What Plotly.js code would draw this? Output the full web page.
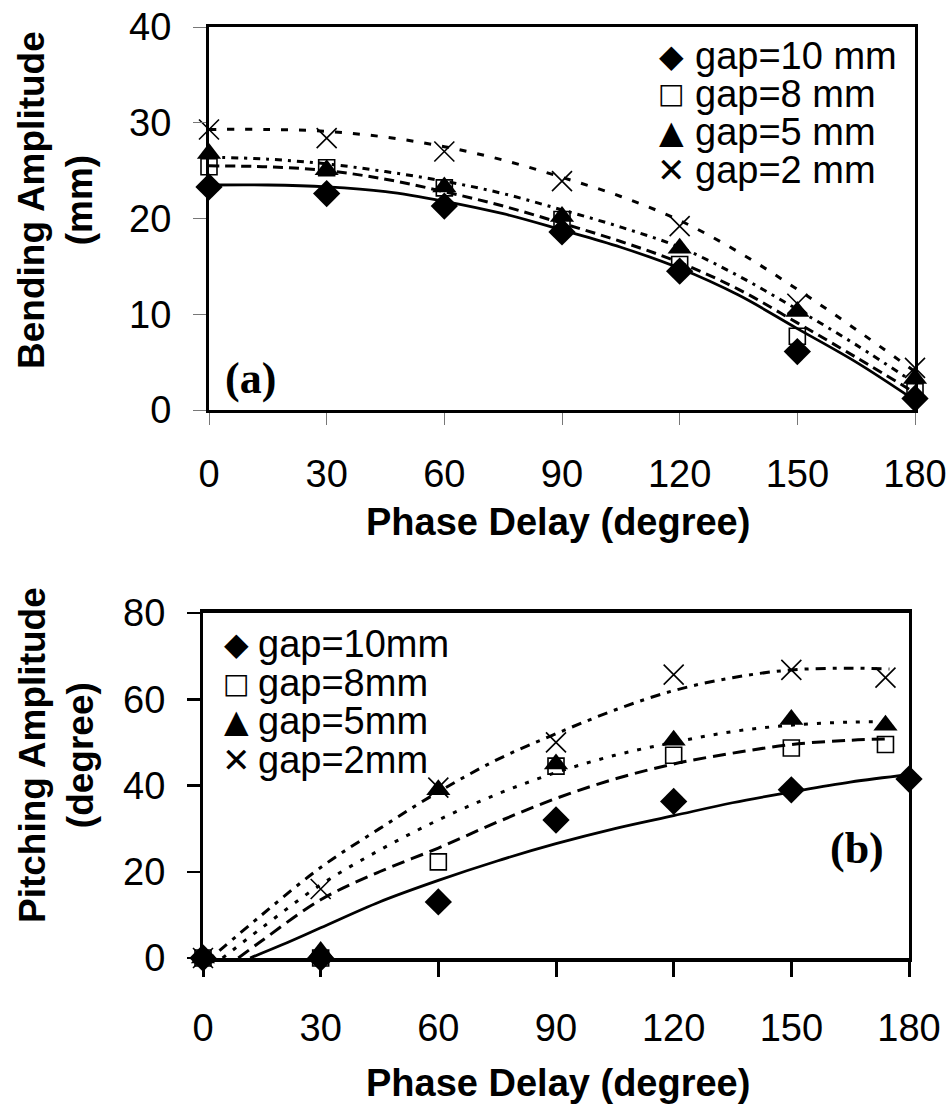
<!DOCTYPE html>
<html><head><meta charset="utf-8">
<script src="https://cdn.plot.ly/plotly-3.0.1.min.js"></script>
<style>html,body{margin:0;padding:0;background:#fff}#chart{width:948px;height:1119px}</style>
</head><body><div id="chart"></div><script>
// ---- (a) Bending amplitude ----
const phaseA = [0, 30, 60, 90, 120, 150, 180];
const bendGap10 = [23.3, 22.6, 21.3, 18.6, 14.5, 6.1, 1.2];
const bendGap8  = [25.4, 25.3, 23.2, 19.9, 15.2, 7.7, 1.9];
const bendGap5  = [26.8, 25.1, 23.3, 20.2, 16.9, 10.3, 3.3];
const bendGap2  = [29.3, 28.4, 27.0, 23.9, 19.2, 11.1, 4.4];
const trendXA   = [0, 15, 30, 45, 60, 75, 90, 105, 120, 135, 150, 165, 180];
const bendFit10 = [23.5, 23.5, 23.3, 22.8, 21.8, 20.5, 18.8, 17.0, 14.8, 12.0, 8.5, 5.0, 1.0];
const bendFit8  = [25.5, 25.4, 25.0, 24.1, 22.8, 21.3, 19.5, 17.6, 15.4, 12.6, 9.1, 5.5, 1.8];
const bendFit5  = [26.4, 26.2, 25.7, 24.9, 23.9, 22.6, 20.9, 19.1, 17.0, 14.0, 10.5, 6.8, 2.8];
const bendFit2  = [29.3, 29.3, 29.1, 28.5, 27.5, 26.1, 24.3, 22.3, 19.8, 16.5, 12.6, 8.4, 4.0];

// ---- (b) Pitching amplitude ----
const phaseB    = [0, 30, 60, 90, 120, 150, 174];
const phaseB10  = [0, 30, 60, 90, 120, 150, 180];
const pitchGap10 = [0, 0, 13, 32, 36.3, 39, 41.5];
const pitchGap8  = [0, 0, 22.3, 44.5, 47, 48.7, 49.5];
const pitchGap5  = [0, 1.5, 39, 45, 50.5, 55.3, 54];
const pitchGap2  = [0, 16, 39.5, 50, 65.7, 66.8, 65];
const fitX10 = [12, 20, 30, 45, 60, 75, 90, 105, 120, 135, 150, 165, 180];
const pitchFit10 = [0, 3, 7, 13, 18, 22.5, 26.5, 30, 33, 36, 38.5, 40.8, 42.5];
const fitX8 = [9, 15, 30, 45, 60, 75, 90, 105, 120, 135, 150, 165, 175];
const pitchFit8 = [0, 4, 13.5, 20, 25.5, 31.5, 37, 41.5, 45, 47.5, 49.5, 50.5, 50.8];
const fitX5 = [5, 15, 30, 45, 60, 75, 90, 105, 120, 135, 150, 165, 175];
const pitchFit5 = [0, 7, 17, 25, 32, 38, 43, 47, 50, 52.5, 54, 54.7, 54.8];
const fitX2 = [2, 15, 30, 45, 60, 75, 90, 105, 120, 135, 150, 165, 175];
const pitchFit2 = [0, 10, 21, 30, 38.5, 46, 52, 57.5, 62, 65, 66.8, 67.2, 67];

const xTicks = [0, 30, 60, 90, 120, 150, 180];
const legendSymbols = ['◆', '□', '▲', '✕'];
const legendA = ['gap=10 mm', 'gap=8 mm', 'gap=5 mm', 'gap=2 mm'];
const legendB = ['gap=10mm', 'gap=8mm', 'gap=5mm', 'gap=2mm'];

const W = 948, H = 1119;
const px = v => v / W, py = v => 1 - v / H;
const SANS = 'Liberation Sans, Arial, sans-serif';
const SERIF = 'Liberation Serif, Times New Roman, serif';

function lineTrace(x, y, dash, xa, ya, w) {
  return {x, y, xaxis: xa, yaxis: ya, mode: 'lines', type: 'scatter', showlegend: false,
    line: {color: 'black', width: w || 3, dash: dash, shape: 'spline'}, hoverinfo: 'skip'};
}
function markTrace(x, y, sym, size, xa, ya) {
  const open = sym.indexOf('open') >= 0;
  return {x, y, xaxis: xa, yaxis: ya, mode: 'markers', type: 'scatter', showlegend: false,
    cliponaxis: false,
    marker: {symbol: sym, size: size, color: 'black',
      line: {color: 'black', width: open ? 1.6 : 0}}};
}

const data = [
  lineTrace(trendXA, bendFit10, 'solid', 'x', 'y', 2.8),
  lineTrace(trendXA, bendFit8, '10px,6px', 'x', 'y'),
  lineTrace(trendXA, bendFit5, '7px,6px,3px,6px', 'x', 'y'),
  lineTrace(trendXA, bendFit2, '7px,11px', 'x', 'y'),
  markTrace(phaseA, bendGap10, 'diamond', 21, 'x', 'y'),
  markTrace(phaseA, bendGap8, 'square-open', 16, 'x', 'y'),
  markTrace(phaseA, bendGap5, 'triangle-up', 21, 'x', 'y'),
  markTrace(phaseA, bendGap2, 'x-thin-open', 20, 'x', 'y'),

  lineTrace(fitX10, pitchFit10, 'solid', 'x2', 'y2', 2.8),
  lineTrace(fitX8, pitchFit8, '13px,7px', 'x2', 'y2'),
  lineTrace(fitX5, pitchFit5, '4px,9px', 'x2', 'y2'),
  lineTrace(fitX2, pitchFit2, '4px,7px,10px,7px', 'x2', 'y2'),
  markTrace(phaseB10, pitchGap10, 'diamond', 21, 'x2', 'y2'),
  markTrace(phaseB, pitchGap8, 'square-open', 16, 'x2', 'y2'),
  markTrace(phaseB, pitchGap5, 'triangle-up', 21, 'x2', 'y2'),
  markTrace(phaseB, pitchGap2, 'x-thin-open', 20, 'x2', 'y2')
];

const tickFont = {family: SANS, size: 38, color: 'black'};
const annotations = [
  {text: 'Phase Delay (degree)', x: px(558), y: py(522), font: {family: SANS, size: 38, weight: 'bold', color: 'black'}},
  {text: 'Bending Amplitude<br>(mm)', x: px(56), y: py(200), textangle: -90, font: {family: SANS, size: 37, weight: 'bold', color: 'black'}},
  {text: 'Pitching Amplitude<br>(degree)', x: px(56), y: py(755), textangle: -90, font: {family: SANS, size: 37, weight: 'bold', color: 'black'}},
  {text: 'Phase Delay (degree)', x: px(558), y: py(1083), font: {family: SANS, size: 38, weight: 'bold', color: 'black'}},
  {text: '(a)', x: px(250), y: py(378), font: {family: SERIF, size: 44, weight: 'bold', color: 'black'}},
  {text: '(b)', x: px(857), y: py(848), font: {family: SERIF, size: 44, weight: 'bold', color: 'black'}}
];
const symSize = [32, 28, 32, 34];
const legAy = [56, 94, 132, 170];
const legBy = [644, 683, 721, 760];
function addLegend(labels, ys, symX, textX) {
  labels.forEach((t, i) => {
    annotations.push({text: legendSymbols[i], x: px(symX), y: py(ys[i]), xanchor: 'center',
      font: {family: 'DejaVu Sans', size: symSize[i], color: 'black'}});
    annotations.push({text: t, x: px(textX), y: py(ys[i]), xanchor: 'left',
      font: {family: SANS, size: 38, color: 'black'}});
  });
}
addLegend(legendA, legAy, 671, 693);
addLegend(legendB, legBy, 236, 256);
annotations.forEach(a => { a.xref = 'paper'; a.yref = 'paper'; a.showarrow = false;
  if (!a.xanchor) a.xanchor = 'center'; a.yanchor = 'middle'; });

const layout = {
  width: W, height: H, margin: {l: 0, r: 0, t: 0, b: 0},
  paper_bgcolor: 'white', plot_bgcolor: 'white', showlegend: false,
  xaxis: {domain: [px(209), px(915)], range: [0, 180], tickvals: xTicks, ticks: 'outside', ticklen: 12,
    tickcolor: '#777', tickwidth: 1, showline: true, linewidth: 3, linecolor: 'black', mirror: true,
    showgrid: false, zeroline: false, tickfont: tickFont, ticklabelstandoff: 16, anchor: 'y', fixedrange: true},
  yaxis: {domain: [py(410), py(27)], range: [0, 40], dtick: 10, ticks: 'outside', ticklen: 13,
    tickcolor: '#777', tickwidth: 1, showline: true, linewidth: 3, linecolor: 'black', mirror: true,
    showgrid: false, zeroline: false, tickfont: tickFont, ticklabelstandoff: 14, anchor: 'x', fixedrange: true},
  xaxis2: {domain: [px(203), px(909)], range: [0, 180], tickvals: xTicks, ticks: 'outside', ticklen: 15,
    tickcolor: 'black', tickwidth: 3, showline: true, linewidth: 4, linecolor: 'black', mirror: true,
    showgrid: false, zeroline: false, tickfont: tickFont, ticklabelstandoff: 18, anchor: 'y2', fixedrange: true},
  yaxis2: {domain: [py(958), py(613)], range: [0, 80], dtick: 20, ticks: 'outside', ticklen: 13,
    tickcolor: 'black', tickwidth: 2.5, showline: true, linewidth: 3, linecolor: 'black', mirror: true,
    showgrid: false, zeroline: false, tickfont: tickFont, ticklabelstandoff: 14, anchor: 'x2', fixedrange: true},
  annotations: annotations
};
Plotly.newPlot('chart', data, layout, {displayModeBar: false, staticPlot: true});
</script></body></html>
